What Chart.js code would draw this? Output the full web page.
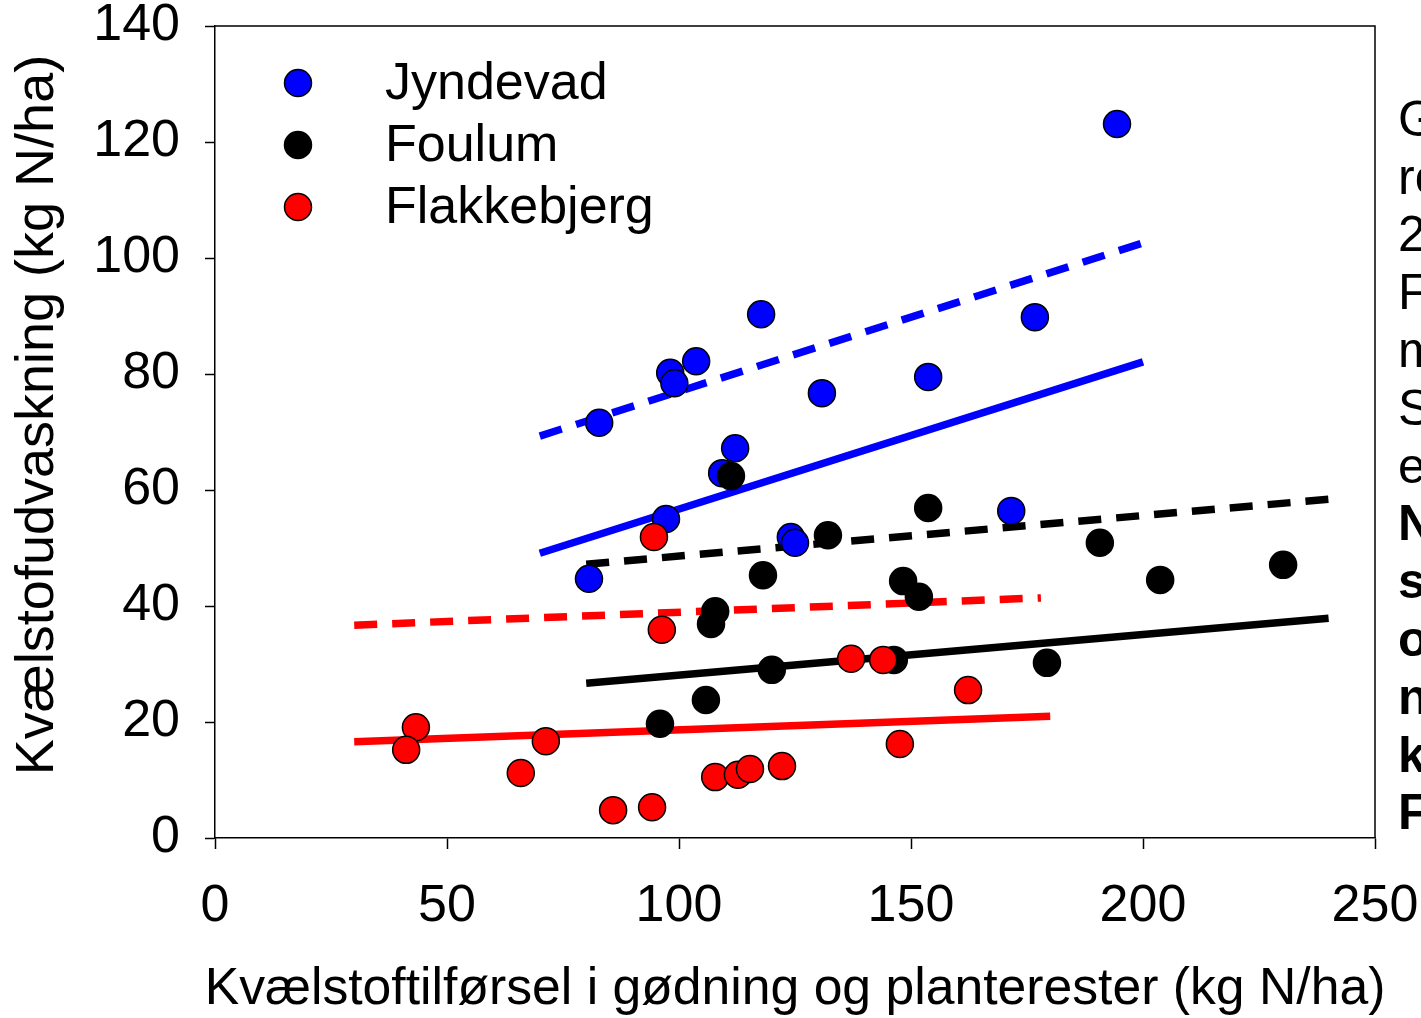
<!DOCTYPE html>
<html>
<head>
<meta charset="utf-8">
<script src="https://cdn.jsdelivr.net/npm/chart.js@4.4.1/dist/chart.umd.min.js"></script>
<style>
html,body{margin:0;padding:0;background:#fff;overflow:hidden}
#wrap{width:1421px;height:1018px;position:relative}
</style>
</head>
<body>
<div id="wrap"><canvas id="myChart" width="1421" height="1018"></canvas></div>
<script>
// site names
var seriesNames = ['Jyndevad', 'Foulum', 'Flakkebjerg']
var seriesColors = ['#0000ff', '#000000', '#ff0000']

// measured points (x = N tilfoersel, y = udvaskning)
var jyndevadX = [80.6, 97.2, 98.1, 99.0, 82.8, 103.7, 117.7, 109.3, 112.1, 130.8, 124.1, 125.0, 153.7, 171.6, 176.7, 194.4]
var jyndevadY = [44.7, 55.0, 80.2, 78.4, 71.6, 82.2, 90.3, 62.9, 67.2, 76.7, 51.9, 50.9, 79.5, 56.4, 89.8, 123.1]

var foulumX = [111.2, 153.7, 132.1, 118.1, 148.3, 151.7, 107.8, 106.9, 120.0, 146.3, 105.8, 95.9, 179.3, 190.7, 203.7, 230.2]
var foulumY = [62.4, 56.9, 52.2, 45.3, 44.3, 41.6, 39.1, 36.9, 29.0, 30.7, 23.8, 19.7, 30.2, 50.9, 44.5, 47.1]

var flakkeX = [94.6, 96.3, 137.1, 144.0, 162.3, 147.6, 43.3, 41.2, 71.3, 65.9, 85.8, 94.2, 107.8, 112.7, 115.3, 122.2]
var flakkeY = [51.9, 35.9, 30.9, 30.7, 25.5, 16.2, 19.1, 15.2, 16.7, 11.2, 4.8, 5.3, 10.5, 10.9, 11.9, 12.4]

// regression lines, start and end (solid and dashed)
var jynLineX = [70, 200]
var jynSolidY = [49.1, 82.1]
var jynDashY = [69.3, 102.6]
var fouLineX = [80, 240]
var fouSolidY = [26.7, 37.9]
var fouDashY = [47.2, 58.4]
var flaSolidX = [30, 180]
var flaSolidY = [16.6, 21.0]
var flaDashX = [30, 178]
var flaDashY = [36.7, 41.4]

// axis ticks
var xTicks = [0, 50, 100, 150, 200, 250]
var yTicks = [0, 20, 40, 60, 80, 100, 120, 140]

var xTitle = 'Kvælstoftilførsel i gødning og planterester (kg N/ha)'
var yTitle = 'Kvælstofudvaskning (kg N/ha)'

// cut off text at the right edge of the figure
var sideText = ['G', 'ro', '2', 'F', 'm', 'S', 'e', 'N', 's', 'o', 'n', 'k', 'F']
var sideBold = [false, false, false, false, false, false, false, true, true, true, true, true, true]

var FONT = 'Liberation Sans, Arial, Helvetica, sans-serif'

function toPoints(xs, ys) {
    var pts = []
    for (let i = 0; i < xs.length; i++) {
        pts.push({x: xs[i], y: ys[i]})
    }
    return pts
}

function pointSet(idx, xs, ys, order) {
    return {
        type: 'scatter',
        label: seriesNames[idx],
        data: toPoints(xs, ys),
        backgroundColor: seriesColors[idx],
        borderColor: '#000',
        borderWidth: 1.5,
        pointRadius: 13.5,
        pointHoverRadius: 13.5,
        order: order
    }
}

function lineSet(idx, xs, ys, dashed) {
    return {
        type: 'line',
        label: seriesNames[idx] + (dashed ? ' dashed' : ' solid'),
        data: toPoints(xs, ys),
        borderColor: seriesColors[idx],
        borderWidth: 7.5,
        borderDash: dashed ? [23, 15] : [],
        borderCapStyle: 'butt',
        pointRadius: 0,
        fill: false,
        tension: 0,
        order: 10
    }
}

// frame, legend, axis titles and the side text
// (titles drawn here since chart.js squeezes the x title to the plot width)
var extrasPlugin = {
    id: 'extras',
    afterDatasetsDraw(chart) {
        var ctx = chart.ctx
        var a = chart.chartArea
        ctx.save()
        ctx.strokeStyle = '#000'
        ctx.lineWidth = 1.5
        ctx.beginPath()
        ctx.moveTo(a.left, a.top)
        ctx.lineTo(a.right, a.top)
        ctx.lineTo(a.right, a.bottom)
        ctx.stroke()

        // legend
        ctx.font = '52px ' + FONT
        ctx.textBaseline = 'middle'
        ctx.textAlign = 'left'
        for (let i = 0; i < seriesNames.length; i++) {
            var y = 83 + i * 62
            ctx.beginPath()
            ctx.arc(298, y, 13.5, 0, Math.PI * 2)
            ctx.fillStyle = seriesColors[i]
            ctx.fill()
            ctx.lineWidth = 1.5
            ctx.strokeStyle = '#000'
            ctx.stroke()
            ctx.fillStyle = '#000'
            ctx.fillText(seriesNames[i], 385, y + 2)
        }

        // side text
        for (let i = 0; i < sideText.length; i++) {
            ctx.font = (sideBold[i] ? 'bold ' : '') + '50px ' + FONT
            ctx.fillText(sideText[i], 1398, 122 + i * 57.8)
        }

        // x title
        ctx.textAlign = 'center'
        ctx.font = '51.7px ' + FONT
        ctx.fillText(xTitle, (a.left + a.right) / 2, 990)

        // y title, a bit above the axis middle like the original
        ctx.translate(38, 415)
        ctx.rotate(-Math.PI / 2)
        ctx.font = '54px ' + FONT
        ctx.fillText(yTitle, 0, 0)
        ctx.restore()
    }
}

var myChart
function drawChart() {
    if (myChart) {
        myChart.destroy()
    }
    const ctx = document.getElementById('myChart').getContext('2d')
    myChart = new Chart(ctx, {
        data: {
            datasets: [
                pointSet(0, jyndevadX, jyndevadY, 3),
                pointSet(1, foulumX, foulumY, 2),
                pointSet(2, flakkeX, flakkeY, 1),
                lineSet(0, jynLineX, jynSolidY, false),
                lineSet(0, jynLineX, jynDashY, true),
                lineSet(1, fouLineX, fouSolidY, false),
                lineSet(1, fouLineX, fouDashY, true),
                lineSet(2, flaSolidX, flaSolidY, false),
                lineSet(2, flaDashX, flaDashY, true)
            ]
        },
        options: {
            responsive: false,
            animation: false,
            events: [],
            layout: {padding: {left: 0, top: 26, right: 46, bottom: 0}},
            plugins: {legend: {display: false}, tooltip: {enabled: false}},
            scales: {
                x: {
                    type: 'linear',
                    min: 0,
                    max: 250,
                    afterBuildTicks: function (scale) {
                        scale.ticks = xTicks.map(v => ({value: v}))
                    },
                    afterFit: function (scale) {
                        scale.height = 180
                        scale.paddingLeft = 0
                        scale.paddingRight = 0
                    },
                    grid: {drawOnChartArea: false, drawTicks: true, tickLength: 11, tickColor: '#000', tickWidth: 1.5},
                    border: {display: true, color: '#000', width: 1.5},
                    ticks: {color: '#000', font: {family: FONT, size: 52}, padding: 26, maxRotation: 0, autoSkip: false},
                    title: {display: false}
                },
                y: {
                    type: 'linear',
                    min: 0,
                    max: 140,
                    afterBuildTicks: function (scale) {
                        scale.ticks = yTicks.map(v => ({value: v}))
                    },
                    afterFit: function (scale) {
                        scale.width = 215
                        scale.paddingTop = 0
                        scale.paddingBottom = 0
                    },
                    grid: {drawOnChartArea: false, drawTicks: true, tickLength: 10, tickColor: '#000', tickWidth: 1.5},
                    border: {display: true, color: '#000', width: 1.5},
                    ticks: {color: '#000', font: {family: FONT, size: 52}, padding: 25, autoSkip: false},
                    title: {display: false}
                }
            }
        },
        plugins: [extrasPlugin]
    })
}
drawChart()
</script>
</body>
</html>
